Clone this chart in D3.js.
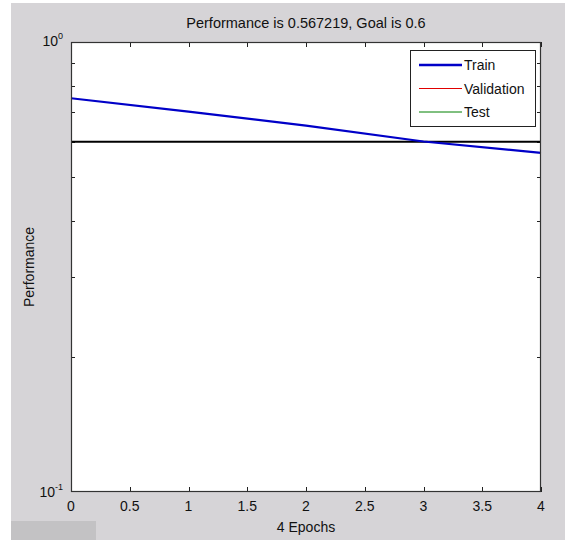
<!DOCTYPE html>
<html><head><meta charset="utf-8">
<script src="https://cdn.jsdelivr.net/npm/d3@7"></script>
<style>body{margin:0;background:#fff}svg{display:block}text{font-family:"Liberation Sans",Arial,sans-serif;fill:#111}</style>
</head><body><svg id="c" width="565" height="542"></svg>
<script>
const epochs = [0, 1, 2, 3, 4];
const trainPerf = [0.75, 0.70, 0.652, 0.601, 0.567219];
const goal = 0.6;
const xTicks = [0, 0.5, 1, 1.5, 2, 2.5, 3, 3.5, 4];
const yMinorTicks = [0.2, 0.3, 0.4, 0.5, 0.6, 0.7, 0.8, 0.9];
const legendItems = ["Train", "Validation", "Test"];
const legendColors = ["#0000c8", "#e00000", "#008000"];
const titleText = "Performance is 0.567219, Goal is 0.6";

const svg = d3.select("#c");
svg.append("rect").attr("x", 11).attr("y", 3).attr("width", 554).attr("height", 537).attr("fill", "#d6d4d7");
svg.append("rect").attr("x", 11).attr("y", 521).attr("width", 85).attr("height", 19).attr("fill", "#c3c2c4");

const L = 71, R = 541, T = 42, B = 492;
const x = d3.scaleLinear().domain([0, 4]).range([L, R]);
const y = d3.scaleLog().domain([0.1, 1]).range([B, T]);

svg.append("rect").attr("x", L).attr("y", T).attr("width", R - L).attr("height", B - T).attr("fill", "#fff");

// ticks
const tl = 5;
const g = svg.append("g").attr("stroke", "#222").attr("stroke-width", 1);
xTicks.forEach(t => {
  const px = Math.round(x(t)) + 0.5;
  g.append("line").attr("x1", px).attr("x2", px).attr("y1", B).attr("y2", B - tl);
  g.append("line").attr("x1", px).attr("x2", px).attr("y1", T).attr("y2", T + tl);
});
yMinorTicks.forEach(t => {
  const py = Math.round(y(t)) + 0.5;
  g.append("line").attr("x1", L).attr("x2", L + tl - 1).attr("y1", py).attr("y2", py);
  g.append("line").attr("x1", R).attr("x2", R - tl + 1).attr("y1", py).attr("y2", py);
});

// data lines
svg.append("line").attr("x1", x(0)).attr("x2", x(4)).attr("y1", y(goal)).attr("y2", y(goal))
  .attr("stroke", "#000").attr("stroke-width", 2);
const line = d3.line().x((d, i) => x(epochs[i])).y(d => y(d));
svg.append("path").attr("d", line(trainPerf)).attr("fill", "none").attr("stroke", legendColors[0]).attr("stroke-width", 2.2);

// frame
svg.append("rect").attr("x", L + 0.5).attr("y", T + 0.5).attr("width", R - L - 1).attr("height", B - T - 1)
  .attr("fill", "none").attr("stroke", "#333").attr("stroke-width", 1.2);

// x labels
xTicks.forEach(t => {
  svg.append("text").attr("x", x(t)).attr("y", 511).attr("text-anchor", "middle").attr("font-size", 14).text(t);
});
svg.append("text").attr("x", x(2)).attr("y", 532).attr("text-anchor", "middle").attr("font-size", 14).text(epochs.length - 1 + " Epochs");

// y labels
function logLabel(v, yy) {
  const tx = svg.append("text").attr("x", 63).attr("y", yy).attr("text-anchor", "end").attr("font-size", 14);
  tx.append("tspan").text("10");
  tx.append("tspan").attr("dy", -7).attr("font-size", 9).text(Math.round(Math.log10(v)));
}
logLabel(1, y(1) + 4);
logLabel(0.1, y(0.1) + 5);

svg.append("text").attr("transform", `translate(34,${(T + B) / 2}) rotate(-90)`).attr("text-anchor", "middle")
  .attr("font-size", 14).text("Performance");

svg.append("text").attr("x", (L + R) / 2).attr("y", 28).attr("text-anchor", "middle").attr("font-size", 14.5).text(titleText);

// legend
const lg = svg.append("g");
lg.append("rect").attr("x", 410.5).attr("y", 50.5).attr("width", 125).attr("height", 76).attr("fill", "#fff").attr("stroke", "#222").attr("stroke-width", 1);
legendItems.forEach((name, i) => {
  const yy = 65 + i * 23.5;
  lg.append("line").attr("x1", 419).attr("x2", 462).attr("y1", yy).attr("y2", yy)
    .attr("stroke", legendColors[i]).attr("stroke-width", i === 0 ? 2.5 : 1);
  lg.append("text").attr("x", 464).attr("y", yy + 5).attr("font-size", 14).text(name);
});
</script></body></html>
